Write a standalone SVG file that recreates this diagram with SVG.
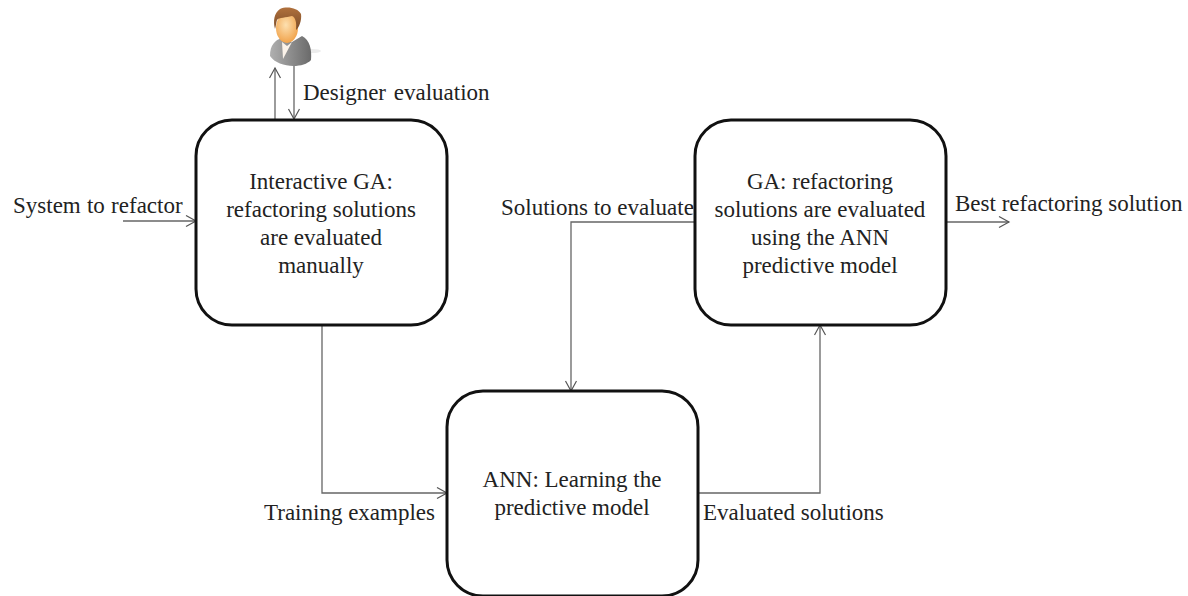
<svg xmlns="http://www.w3.org/2000/svg" width="1188" height="596" viewBox="0 0 1188 596">
<style>
.box{fill:#fff;stroke:#111;stroke-width:3}
.c{fill:none;stroke:#666;stroke-width:1.3}
text{font-family:"Liberation Serif","Times New Roman",serif;font-size:23px;fill:#222}
.m{text-anchor:middle}
</style>
<defs>
<marker id="a" markerUnits="userSpaceOnUse" markerWidth="14" markerHeight="14" refX="11" refY="6" orient="auto"><path d="M1 0.5L11 6L1 11.500" fill="none" stroke="#555" stroke-width="1.200"/></marker>
<radialGradient id="sk" cx="0.45" cy="0.4" r="0.7"><stop offset="0" stop-color="#fde0b0"/><stop offset="1" stop-color="#ef9a3c"/></radialGradient>
<linearGradient id="su" x1="0" y1="0" x2="1" y2="0"><stop offset="0" stop-color="#b0b0b0"/><stop offset="1" stop-color="#6a6a6a"/></linearGradient>
<linearGradient id="ha" x1="0" y1="0" x2="0" y2="1"><stop offset="0" stop-color="#b0703c"/><stop offset="1" stop-color="#7a4c28"/></linearGradient>
</defs>
<g id="connectors">
<path class="c" d="M275 120V68" marker-end="url(#a)"/>
<path class="c" d="M294 66V119" marker-end="url(#a)"/>
<path class="c" d="M123 221H196" marker-end="url(#a)"/>
<path class="c" d="M322 325V493H447" marker-end="url(#a)"/>
<path class="c" d="M695 222H571V391" marker-end="url(#a)"/>
<path class="c" d="M698 493H820V325" marker-end="url(#a)"/>
<path class="c" d="M946 222H1009" marker-end="url(#a)"/>
</g>
<g id="designer">
<ellipse cx="312" cy="51" rx="9" ry="2" fill="#ececec"/>
<path d="M270 56C270 45 275 40 282 38L292 42L302 36C310 40 312 50 311 60C303 69 278 68 270 56Z" fill="url(#su)"/>
<path d="M282 42L283 59L292 42L287 46Z" fill="#fbf3ea"/>
<ellipse cx="287" cy="28" rx="11" ry="15" fill="url(#sk)"/>
<path d="M275 29C273 21 274 13 280 9C287 6 298 8 301 14C302 20 299 28 296 30C297 22 295 17 292 16C286 18 279 17 277 20C276 23 276 26 275 29Z" fill="url(#ha)"/>
</g>
<g id="label-designer"><text x="303" y="100" word-spacing="2">Designer evaluation</text></g>
<g id="label-system"><text x="13" y="213" word-spacing="0.500">System to refactor</text></g>
<g id="node-interactive">
<rect class="box" x="196" y="120" width="251" height="205" rx="36"/>
<text class="m" x="321" y="189">Interactive GA:</text>
<text class="m" x="321" y="217">refactoring solutions</text>
<text class="m" x="321" y="245">are evaluated</text>
<text class="m" x="321" y="273">manually</text>
</g>
<g id="node-ga">
<rect class="box" x="695" y="120" width="251" height="205" rx="36"/>
<text class="m" x="820" y="189">GA: refactoring</text>
<text class="m" x="820" y="217">solutions are evaluated</text>
<text class="m" x="820" y="245">using the ANN</text>
<text class="m" x="820" y="273">predictive model</text>
</g>
<g id="node-ann">
<rect class="box" x="447" y="391" width="251" height="205" rx="36"/>
<text class="m" x="572" y="487">ANN: Learning the</text>
<text class="m" x="572" y="515">predictive model</text>
</g>
<g id="label-solutions"><text x="501" y="215">Solutions to evaluate</text></g>
<g id="label-best"><text x="955" y="211">Best refactoring solution</text></g>
<g id="label-training"><text x="264" y="520">Training examples</text></g>
<g id="label-evaluated"><text x="703" y="520">Evaluated solutions</text></g>
</svg>
